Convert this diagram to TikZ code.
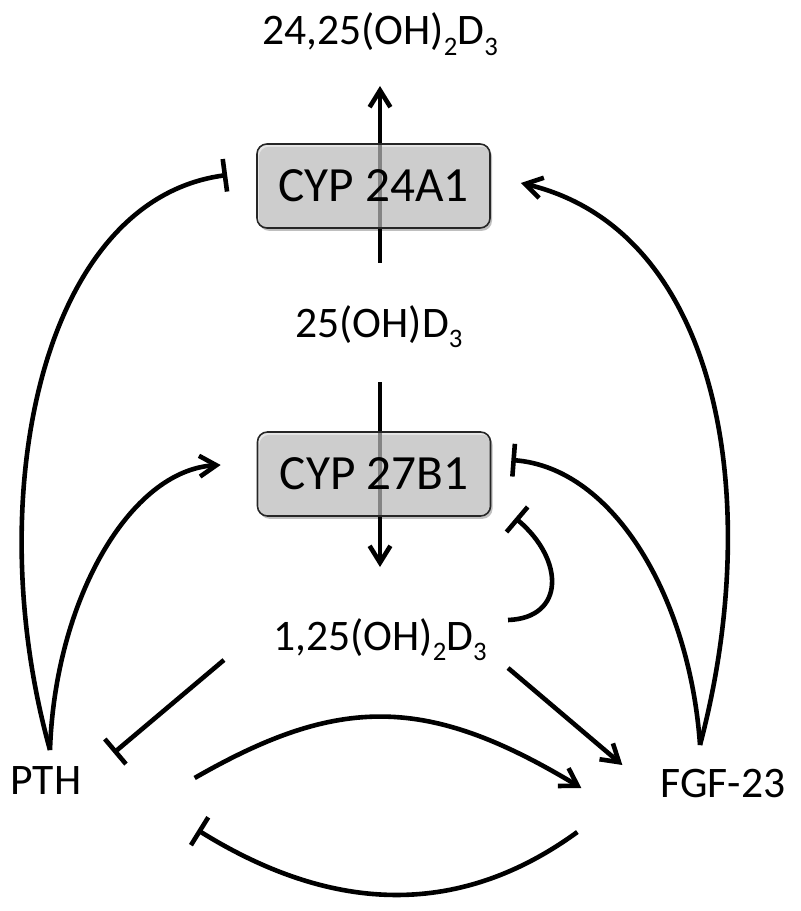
\documentclass[tikz,border=0pt]{standalone}
\usepackage{fontspec}
\setmainfont{Carlito}
\usetikzlibrary{arrows.meta, calc, shadows}
\newcommand{\lsub}[1]{\raisebox{-0.23em}{\fontsize{19}{19}\selectfont #1}}

\begin{document}
\begin{tikzpicture}[x=0.025cm, y=-0.025cm,
    every node/.style={font=\fontsize{31}{37}\selectfont, inner sep=0pt},
    lbl/.style={anchor=base},
    enz/.style={rectangle, rounded corners=0.25cm, draw=black!85, line width=0.04cm,
      fill=black!16, fill opacity=0.62, text opacity=1,
      minimum width=5.825cm, minimum height=2.1cm,
      font=\fontsize{35}{42}\selectfont,
      drop shadow={shadow xshift=0.05cm, shadow yshift=-0.07cm, opacity=0.25, fill=black}},
    arr/.style={-{Straight Barb[length=0.42cm, width=0.52cm]}, line width=0.115cm},
    inh/.style={-{Bar[width=0.82cm]}, line width=0.115cm}]

  \useasboundingbox (0,0) rectangle (800,911);

  % metabolites and hormones
  \node[lbl] (d2425) at (380,45) {24,25(OH)\lsub{2}D\lsub{3}};
  \node[lbl] (d25) at (379,337) {25(OH)D\lsub{3}};
  \node[lbl] (d125) at (380,650) {1,25(OH)\lsub{2}D\lsub{3}};
  \node[lbl] (pth) at (46,794) {PTH};
  \node[lbl] (fgf) at (723,797) {FGF-23};

  % main pathway, seen through the enzymes
  \draw[arr] ($(d25.base)+(1,-74)$) -- ($(d2425.base)+(0,41)$);
  \draw[arr] ($(d25.base)+(1,45)$) -- ($(d125.base)+(0,-83)$);

  \node[enz] (cyp24) at (373.5,186) {CYP 24A1};
  \node[enz] (cyp27) at (374,474) {CYP 27B1};

  % PTH
  \draw[inh] ($(pth.base)+(4,-44)$) .. controls (-20,500) and (40,200) .. ($(cyp24.west)+(-29,-11)$);
  \draw[arr] ($(pth.base)+(4,-44)$) .. controls (55,600) and (130,470) .. ($(cyp27.west)+(-36,-9)$);
  % FGF-23
  \draw[arr] ($(fgf.base)+(-23,-52)$) .. controls (765,500) and (720,230) .. ($(cyp24.east)+(30,-3)$);
  \draw[inh] ($(fgf.base)+(-23,-52)$) .. controls (690,600) and (615,468) .. ($(cyp27.east)+(20,-14)$);
  % 1,25(OH)2D3 feedback
  \draw[inh] ($(d125.base east)+(21,-30)$) .. controls (565,618) and (565,560) .. ($(cyp27.east)+(24,44)$);
  \draw[inh] ($(d125.base west)+(-49,10)$) -- ($(pth.base east)+(32,-41)$);
  \draw[arr] ($(d125.base east)+(21,18)$) -- ($(fgf.base west)+(-38,-32)$);
  % PTH <-> FGF-23
  \draw[arr] ($(pth.base east)+(113,-16)$) .. controls (339,695) and (427,695) .. ($(fgf.base west)+(-79,-9)$);
  \draw[inh] ($(fgf.base west)+(-83,35)$) .. controls (462,916) and (336,916) .. ($(pth.base east)+(116,36)$);
\end{tikzpicture}
\end{document}
